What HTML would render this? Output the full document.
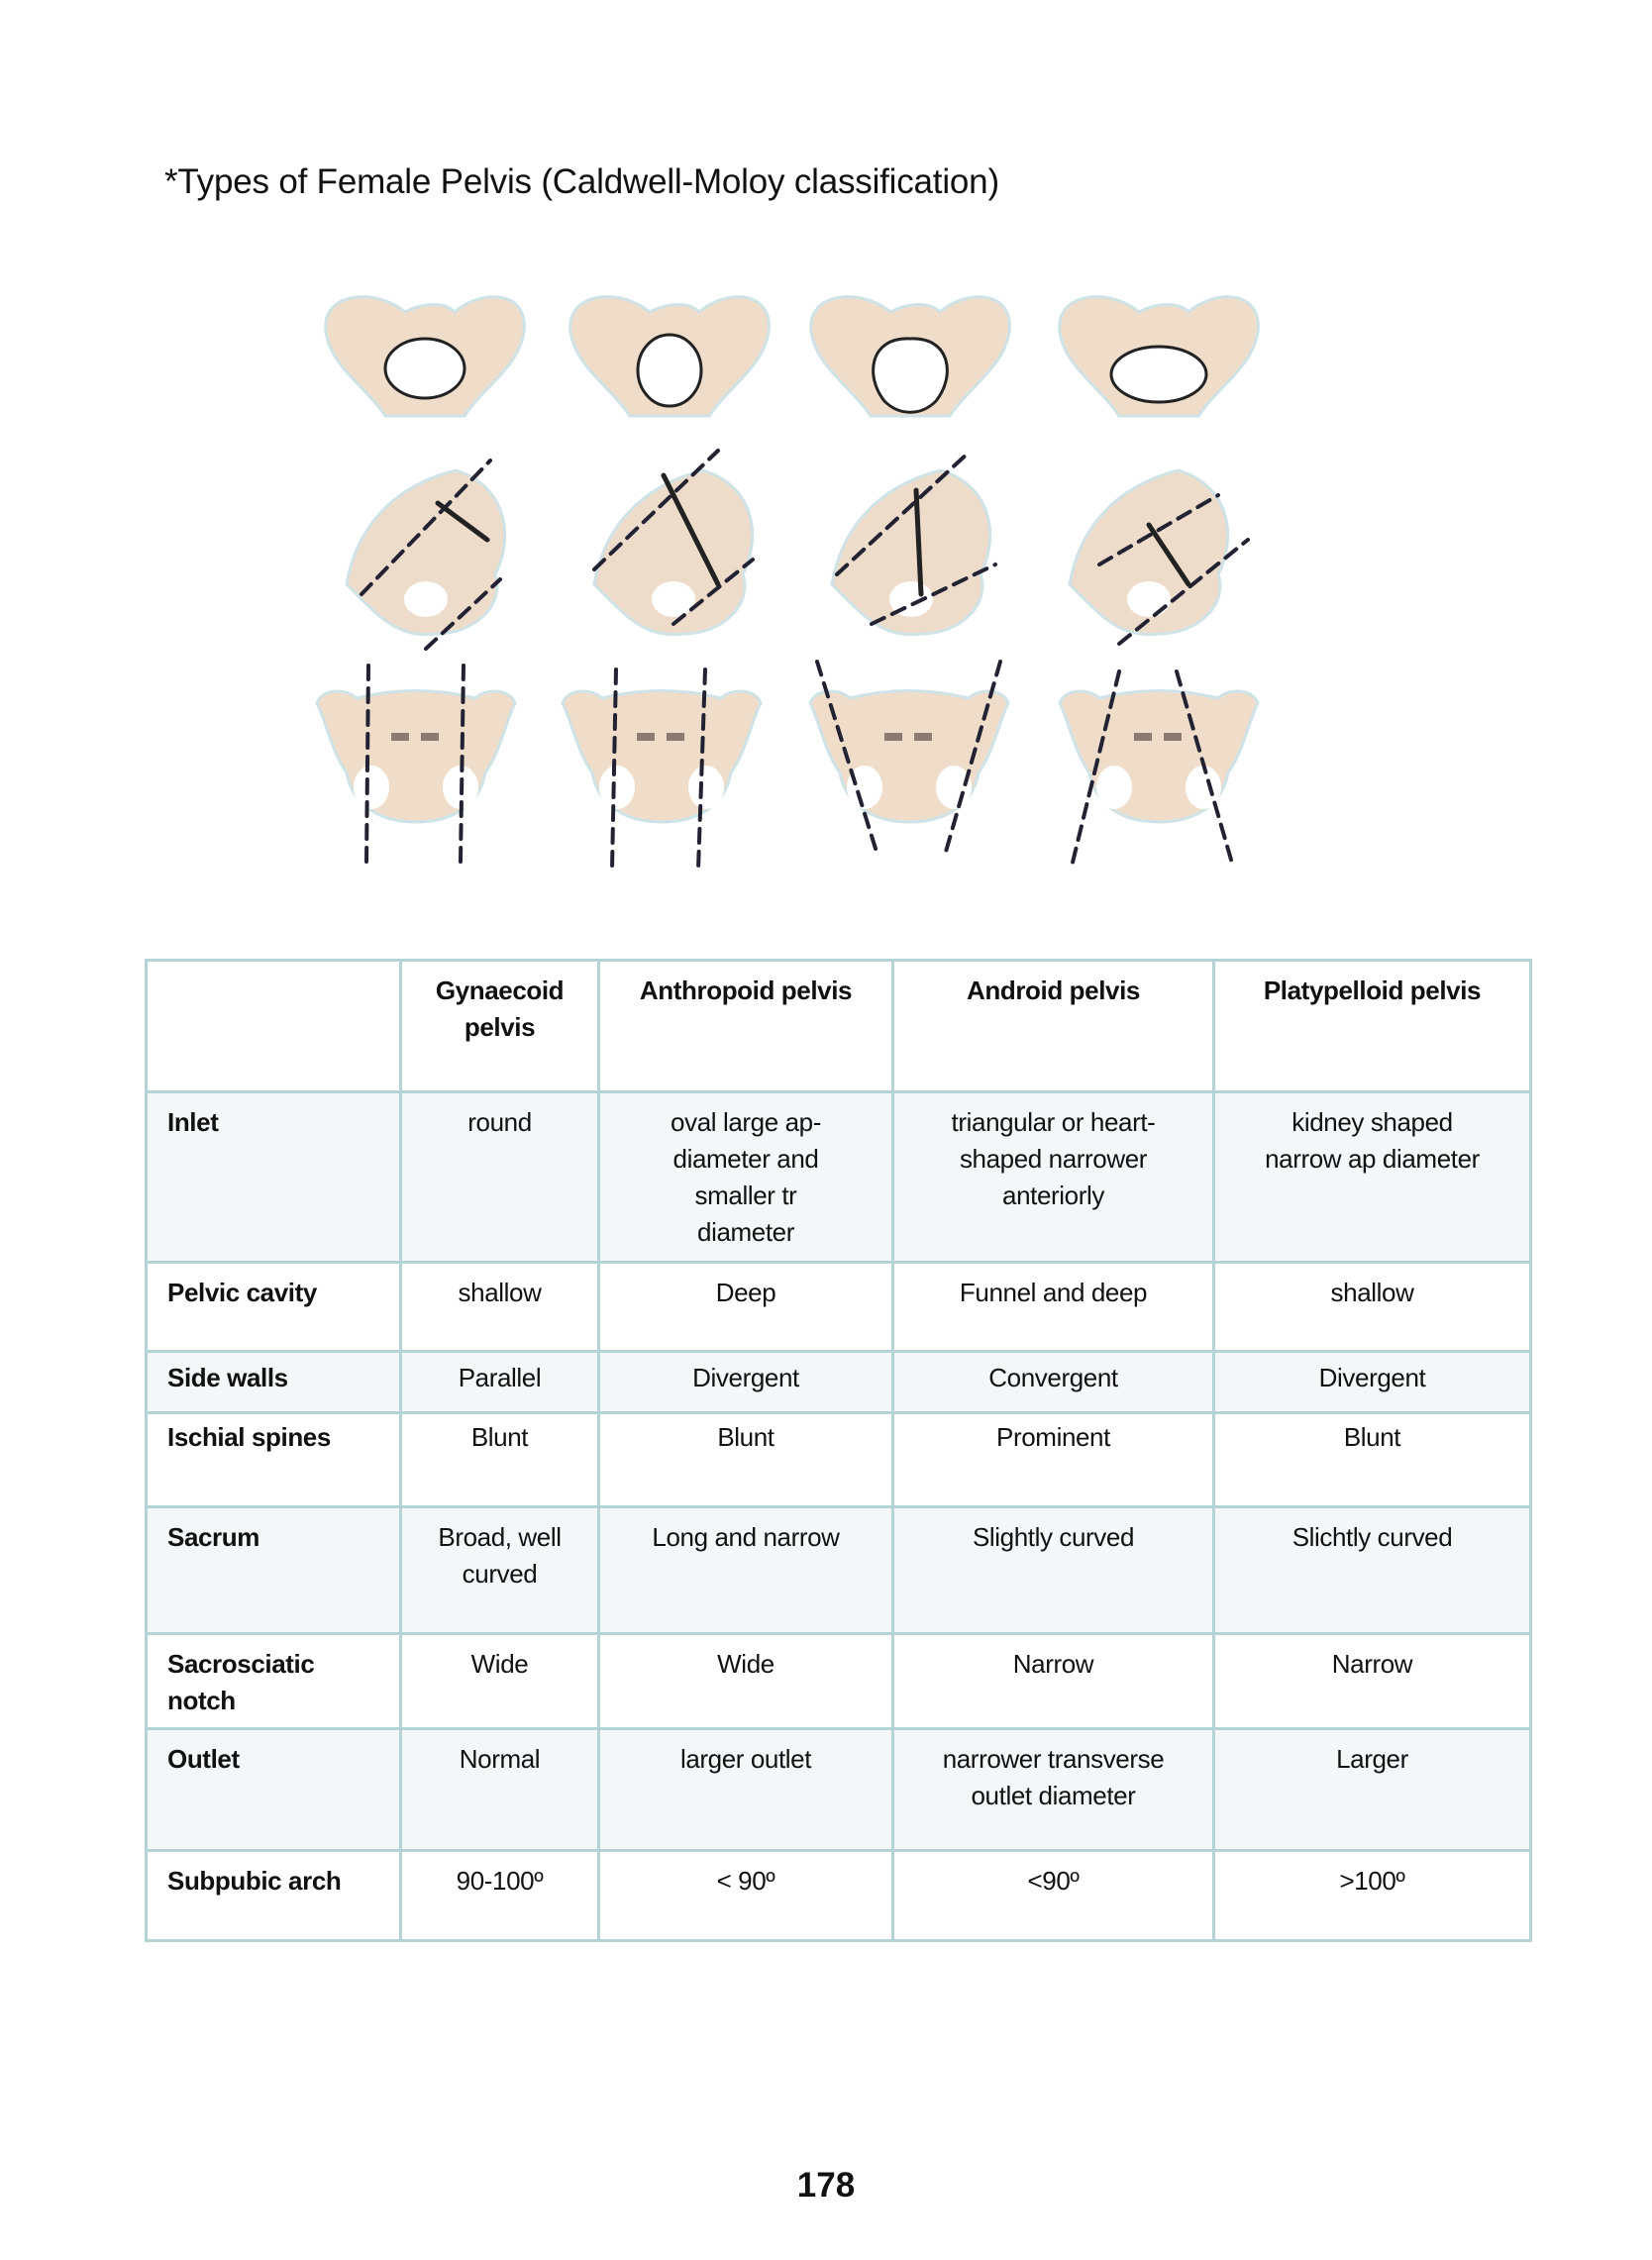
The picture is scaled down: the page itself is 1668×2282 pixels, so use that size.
<!DOCTYPE html>
<html><head><meta charset="utf-8">
<style>
body{margin:0;background:#fff;}
.page{position:relative;width:1668px;height:2282px;overflow:hidden;font-family:"Liberation Sans",sans-serif;color:#111;}
.title{position:absolute;left:166px;top:164px;font-size:35px;letter-spacing:-0.2px;}
table{position:absolute;left:146px;top:968px;border-collapse:collapse;table-layout:fixed;width:1398px;font-size:26px;letter-spacing:-0.4px;}
td{border:3px solid #b3d3d6;vertical-align:top;text-align:center;padding:11px 8px 0 8px;line-height:37px;box-sizing:border-box;}
td:first-child{text-align:left;font-weight:bold;padding-left:20px;}
tr.l td{background:#f3f7f8;}
tr.h td{font-weight:bold;}
.pn{position:absolute;left:0;width:1668px;text-align:center;top:2187px;font-size:35px;font-weight:bold;}
</style></head><body><div class="page">
<div class="title">*Types of Female Pelvis (Caldwell-Moloy classification)</div>
<svg width="1668" height="960" style="position:absolute;left:0;top:0">
<defs>
<g id="top">
<path d="M-100,-25 C-105,-65 -50,-70 -20,-45 C0,-55 20,-55 30,-45 C60,-70 105,-65 100,-25 C95,10 60,30 40,60 L-40,60 C-60,30 -95,10 -100,-25Z" fill="#efdcc9" stroke="#cfe3e6" stroke-width="3"/>
</g>
<g id="side">
<path d="M-90,40 C-80,-20 -40,-60 20,-75 C70,-60 80,-10 60,30 C70,60 40,90 0,90 C-40,95 -60,70 -90,40Z" fill="#eedccb" stroke="#cfe3e6" stroke-width="3"/>
<ellipse cx="-10" cy="55" rx="22" ry="18" fill="#fff"/>
</g>
<g id="front">
<path d="M-100,-30 C-95,-45 -70,-45 -60,-35 C-20,-45 20,-45 60,-35 C70,-45 95,-45 100,-30 C90,-10 85,20 70,40 C65,70 40,90 0,90 C-40,90 -65,70 -70,40 C-85,20 -90,-10 -100,-30Z" fill="#efdcc9" stroke="#cfe3e6" stroke-width="3"/>
<ellipse cx="-45" cy="55" rx="18" ry="22" fill="#fff"/><ellipse cx="45" cy="55" rx="18" ry="22" fill="#fff"/>
<rect x="-25" y="0" width="18" height="8" fill="#8a7a70"/><rect x="5" y="0" width="18" height="8" fill="#8a7a70"/>
</g>
</defs>
<g stroke-linecap="round">
<use href="#top" x="429" y="360"/><ellipse cx="429" cy="372" rx="40" ry="30" fill="#fff" stroke="#222" stroke-width="3"/>
<use href="#top" x="676" y="360"/><ellipse cx="676" cy="374" rx="32" ry="36" fill="#fff" stroke="#222" stroke-width="3"/>
<use href="#top" x="919" y="360"/><path d="M919,342 C960,340 965,380 945,405 C930,420 908,420 893,405 C873,380 878,340 919,342Z" fill="#fff" stroke="#222" stroke-width="3"/>
<use href="#top" x="1170" y="360"/><ellipse cx="1170" cy="378" rx="48" ry="28" fill="#fff" stroke="#222" stroke-width="3"/>
<use href="#side" x="440" y="550"/><use href="#side" x="690" y="550"/><use href="#side" x="930" y="550"/><use href="#side" x="1170" y="550"/>
<g stroke="#223" stroke-width="4" stroke-dasharray="14,9" fill="none">
<line x1="365" y1="600" x2="495" y2="465"/><line x1="430" y1="655" x2="505" y2="585"/>
<line x1="600" y1="575" x2="725" y2="455"/><line x1="680" y1="630" x2="760" y2="565"/>
<line x1="845" y1="580" x2="980" y2="455"/><line x1="880" y1="630" x2="1005" y2="570"/>
<line x1="1110" y1="570" x2="1230" y2="500"/><line x1="1130" y1="650" x2="1260" y2="545"/>
</g>
<g stroke="#222" stroke-width="5"><line x1="442" y1="508" x2="492" y2="545"/><line x1="670" y1="480" x2="725" y2="590"/><line x1="925" y1="495" x2="930" y2="600"/><line x1="1160" y1="530" x2="1200" y2="590"/></g>
<use href="#front" x="420" y="740"/><use href="#front" x="668" y="740"/><use href="#front" x="918" y="740"/><use href="#front" x="1170" y="740"/>
<g stroke="#223" stroke-width="4" stroke-dasharray="14,9" fill="none">
<line x1="372" y1="672" x2="370" y2="870"/><line x1="468" y1="672" x2="465" y2="870"/>
<line x1="622" y1="676" x2="618" y2="878"/><line x1="712" y1="676" x2="705" y2="878"/>
<line x1="825" y1="668" x2="885" y2="860"/><line x1="1010" y1="668" x2="955" y2="860"/>
<line x1="1130" y1="678" x2="1082" y2="875"/><line x1="1188" y1="678" x2="1245" y2="875"/>
</g>
</g>
</svg>
<table>
<colgroup><col style="width:257px"><col style="width:200px"><col style="width:297px"><col style="width:324px"><col style="width:320px"></colgroup>
<tr class="h" style="height:133px"><td></td><td>Gynaecoid pelvis</td><td>Anthropoid pelvis</td><td>Android pelvis</td><td>Platypelloid pelvis</td></tr>
<tr class="l" style="height:172px"><td>Inlet</td><td>round</td><td>oval large ap-<br>diameter and<br>smaller tr<br>diameter</td><td>triangular or heart-<br>shaped narrower<br>anteriorly</td><td>kidney shaped<br>narrow ap diameter</td></tr>
<tr style="height:90px"><td>Pelvic cavity</td><td>shallow</td><td>Deep</td><td>Funnel and deep</td><td>shallow</td></tr>
<tr class="l" style="height:62px"><td style="padding-top:7px">Side walls</td><td style="padding-top:7px">Parallel</td><td style="padding-top:7px">Divergent</td><td style="padding-top:7px">Convergent</td><td style="padding-top:7px">Divergent</td></tr>
<tr style="height:95px"><td style="padding-top:5px">Ischial spines</td><td style="padding-top:5px">Blunt</td><td style="padding-top:5px">Blunt</td><td style="padding-top:5px">Prominent</td><td style="padding-top:5px">Blunt</td></tr>
<tr class="l" style="height:128px"><td>Sacrum</td><td>Broad, well<br>curved</td><td>Long and narrow</td><td>Slightly curved</td><td>Slichtly curved</td></tr>
<tr style="height:96px"><td>Sacrosciatic<br>notch</td><td>Wide</td><td>Wide</td><td>Narrow</td><td>Narrow</td></tr>
<tr class="l" style="height:123px"><td>Outlet</td><td>Normal</td><td>larger outlet</td><td>narrower transverse<br>outlet diameter</td><td>Larger</td></tr>
<tr style="height:91px"><td>Subpubic arch</td><td>90-100º</td><td>&lt; 90º</td><td>&lt;90º</td><td>&gt;100º</td></tr>
</table>
<div class="pn">178</div>
</div></body></html>
